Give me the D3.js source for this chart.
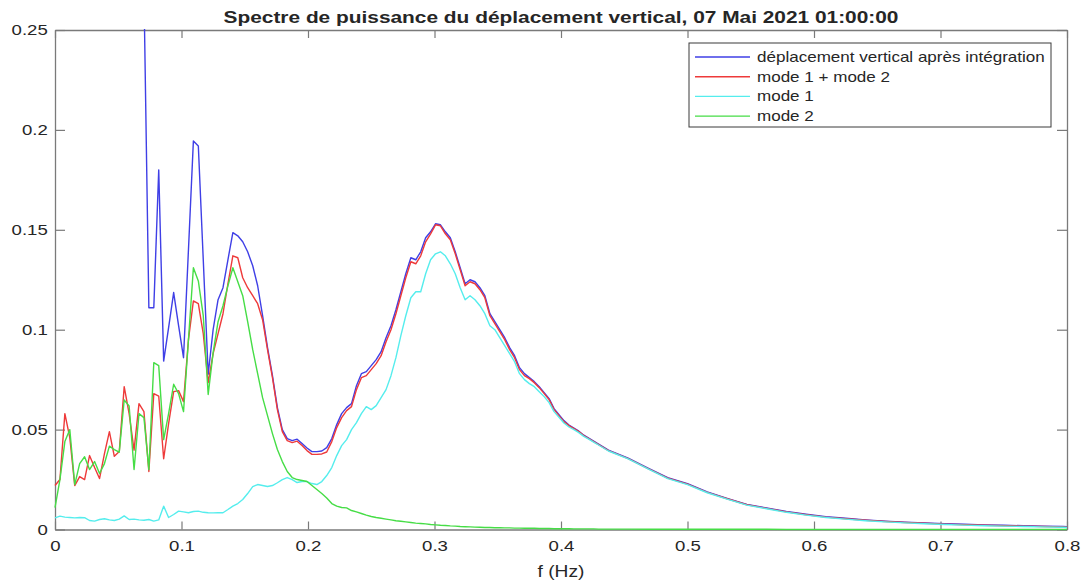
<!DOCTYPE html>
<html>
<head>
<meta charset="utf-8" />
<title>Spectre de puissance</title>
<script src="https://d3js.org/d3.v7.min.js" charset="utf-8"></script>
<style>
    body { margin: 0; background: #fff; }
    svg text { font-family: "Liberation Sans", Arial, sans-serif; fill: #262626; }
</style>
</head>
<body>
<svg id="chart" width="1086" height="583"></svg>
<script>

// frequences (Hz), pas de 1/256 puis plus large dans la queue
var freq = [
    0, 0.0039, 0.0078, 0.0117, 0.0156, 0.0195, 0.0234, 0.0273, 0.0313, 0.0352,
    0.0391, 0.043, 0.0469, 0.0508, 0.0547, 0.0586, 0.0625, 0.0664, 0.0703, 0.0742,
    0.0781, 0.082, 0.0859, 0.0898, 0.0938, 0.0977, 0.1016, 0.1055, 0.1094, 0.1133,
    0.1172, 0.1211, 0.125, 0.1289, 0.1328, 0.1367, 0.1406, 0.1445, 0.1484, 0.1523,
    0.1563, 0.1602, 0.1641, 0.168, 0.1719, 0.1758, 0.1797, 0.1836, 0.1875, 0.1914,
    0.1953, 0.1992, 0.2031, 0.207, 0.2109, 0.2148, 0.2188, 0.2227, 0.2266, 0.2305,
    0.2344, 0.2383, 0.2422, 0.2461, 0.25, 0.2539, 0.2578, 0.2617, 0.2656, 0.2695,
    0.2734, 0.2773, 0.2813, 0.2852, 0.2891, 0.293, 0.2969, 0.3008, 0.3047, 0.3086,
    0.3125, 0.3164, 0.3203, 0.3242, 0.3281, 0.332, 0.3359, 0.3398, 0.3438, 0.3477,
    0.3516, 0.3555, 0.3594, 0.3633, 0.3672, 0.3711, 0.375, 0.3789, 0.3828, 0.3867,
    0.3906, 0.3945, 0.3984, 0.4023, 0.4063, 0.4102, 0.4141, 0.418, 0.4219, 0.4258,
    0.4297,
    0.4375, 0.4531, 0.4688, 0.4844, 0.5, 0.5156, 0.5313, 0.5469, 0.5625, 0.5781, 0.5938, 0.6094,
    0.625, 0.6406, 0.6563, 0.6719, 0.6875, 0.7031, 0.7188, 0.7344, 0.75, 0.7656, 0.7813, 0.7969,
    0.8
];

// deplacement vertical apres integration (bleu)
var deplacement = [
    9.5, 6.1, 4.0, 2.8, 2.1, 1.6, 1.3, 1.05, 0.9, 0.75,
    0.66, 0.58, 0.52, 0.46, 0.41, 0.37, 0.33, 0.30, 0.27, 0.111,
    0.111, 0.180, 0.0843, 0.101, 0.1186, 0.102, 0.086, 0.14, 0.1945, 0.192,
    0.135, 0.0777, 0.100, 0.115, 0.121, 0.135, 0.1486, 0.147, 0.144, 0.139,
    0.132, 0.122, 0.107, 0.091, 0.077, 0.061, 0.050, 0.0455, 0.0445, 0.0452,
    0.043, 0.0408, 0.039, 0.039, 0.0393, 0.041, 0.0455, 0.0525, 0.058, 0.061,
    0.063, 0.072, 0.078, 0.079, 0.082, 0.085, 0.089, 0.096, 0.102, 0.110,
    0.119, 0.128, 0.136, 0.135, 0.139, 0.146, 0.149, 0.153, 0.1525, 0.149,
    0.146, 0.139, 0.131, 0.123, 0.125, 0.124, 0.121, 0.117, 0.108, 0.104,
    0.100, 0.096, 0.091, 0.087, 0.081, 0.078, 0.076, 0.074, 0.0715, 0.0685,
    0.0655, 0.0605, 0.0575, 0.0545, 0.0523, 0.0508, 0.0492, 0.0472, 0.0457, 0.0442,
    0.0427,
    0.0397, 0.0357, 0.0307, 0.0259, 0.0229, 0.0188, 0.0156, 0.0126, 0.0108, 0.0090, 0.0076, 0.0064,
    0.0056, 0.0048, 0.0042, 0.0037, 0.0033, 0.0029, 0.0026, 0.0023, 0.0021, 0.0019, 0.0017, 0.0015,
    0.0014
];

// mode 1 + mode 2 (rouge)
var modeSomme = [
    0.022, 0.025, 0.058, 0.046, 0.022, 0.0265, 0.025, 0.037, 0.031, 0.0255,
    0.038, 0.049, 0.0366, 0.039, 0.0715, 0.058, 0.0397, 0.063, 0.059, 0.029,
    0.068, 0.0668, 0.0354, 0.053, 0.069, 0.0695, 0.064, 0.095, 0.1144, 0.113,
    0.098, 0.0735, 0.088, 0.098, 0.108, 0.123, 0.137, 0.136, 0.126, 0.121,
    0.117, 0.113, 0.105, 0.090, 0.076, 0.060, 0.049, 0.0445, 0.0435, 0.0442,
    0.042, 0.0395, 0.0376, 0.0376, 0.0378, 0.0388, 0.044, 0.051, 0.056, 0.0595,
    0.0615, 0.070, 0.076, 0.077, 0.080, 0.083, 0.087, 0.094, 0.100, 0.108,
    0.117, 0.126, 0.134, 0.133, 0.137, 0.144, 0.148, 0.1525, 0.152, 0.148,
    0.145, 0.138, 0.130, 0.122, 0.124, 0.123, 0.120, 0.116, 0.107, 0.103,
    0.099, 0.095, 0.090, 0.086, 0.080, 0.077, 0.0755, 0.0735, 0.071, 0.068,
    0.065, 0.060, 0.057, 0.054, 0.052, 0.0505, 0.049, 0.047, 0.0455, 0.044,
    0.0425,
    0.0395, 0.0355, 0.0305, 0.0257, 0.0227, 0.0186, 0.0154, 0.0124, 0.0106, 0.0088, 0.0074, 0.0062,
    0.0054, 0.0046, 0.0040, 0.0035, 0.0031, 0.0027, 0.0024, 0.0021, 0.0019, 0.0017, 0.0015, 0.0013,
    0.0012
];

// mode 1 (cyan)
var mode1 = [
    0.0058, 0.0067, 0.0062, 0.006, 0.0058, 0.006, 0.0059, 0.0045, 0.0042, 0.005,
    0.0054, 0.0048, 0.0045, 0.0052, 0.0068, 0.005, 0.0052, 0.0048, 0.0046, 0.005,
    0.0042, 0.0048, 0.0117, 0.006, 0.0075, 0.0092, 0.0088, 0.0084, 0.009, 0.0092,
    0.0086, 0.0084, 0.0083, 0.0084, 0.0084, 0.010, 0.0117, 0.013, 0.015, 0.018,
    0.0215, 0.0225, 0.022, 0.0215, 0.022, 0.0234, 0.025, 0.026, 0.025, 0.0235,
    0.024, 0.024, 0.023, 0.0225, 0.024, 0.027, 0.031, 0.037, 0.042, 0.045,
    0.050, 0.0535, 0.058, 0.0615, 0.060, 0.062, 0.066, 0.070, 0.077, 0.086,
    0.097, 0.107, 0.116, 0.119, 0.119, 0.128, 0.135, 0.138, 0.139, 0.137,
    0.133, 0.128, 0.121, 0.115, 0.117, 0.115, 0.112, 0.108, 0.102, 0.100,
    0.096, 0.092, 0.088, 0.084, 0.078, 0.075, 0.073, 0.0715, 0.069, 0.0665,
    0.0635, 0.059, 0.0562, 0.0533, 0.0513, 0.050, 0.0485, 0.0466, 0.0452, 0.0437,
    0.0423,
    0.0393, 0.0353, 0.0303, 0.0255, 0.0225, 0.0184, 0.0152, 0.0122, 0.0104, 0.0086, 0.0072, 0.0060,
    0.0052, 0.0044, 0.0038, 0.0033, 0.0029, 0.0025, 0.0022, 0.0019, 0.0017, 0.0015, 0.0013, 0.0011,
    0.0010
];

// mode 2 (vert)
var mode2 = [
    0.011, 0.025, 0.044, 0.050, 0.0225, 0.033, 0.0364, 0.030, 0.034, 0.028,
    0.033, 0.0417, 0.040, 0.0387, 0.0648, 0.0618, 0.030, 0.058, 0.056, 0.030,
    0.0835, 0.082, 0.045, 0.058, 0.0727, 0.068, 0.059, 0.095, 0.131, 0.1244,
    0.107, 0.0676, 0.0885, 0.104, 0.112, 0.122, 0.131, 0.124, 0.117, 0.104,
    0.090, 0.078, 0.066, 0.057, 0.048, 0.040, 0.034, 0.029, 0.026, 0.025,
    0.0245, 0.024, 0.022, 0.020, 0.018, 0.0158, 0.013, 0.0117, 0.011, 0.0108,
    0.0095, 0.0088, 0.008, 0.0072, 0.0065, 0.006, 0.0056, 0.0052, 0.0048, 0.0044,
    0.0041, 0.0038, 0.0035, 0.0032, 0.003, 0.0028, 0.0025, 0.0023, 0.0021, 0.002,
    0.0018, 0.0017, 0.0015, 0.0014, 0.0013, 0.0012, 0.0011, 0.001, 0.001, 0.0009,
    0.0009, 0.0008, 0.0008, 0.0007, 0.0007, 0.0006, 0.0006, 0.0006, 0.0005, 0.0005,
    0.0005, 0.0004, 0.0004, 0.0004, 0.0004, 0.0003, 0.0003, 0.0003, 0.0003, 0.0003,
    0.0002,
    0.0002, 0.0002, 0.0001, 0.0001, 0.0001, 0.0001, 0.0001, 0.0001, 0.0001, 0, 0, 0,
    0, 0, 0, 0, 0, 0, 0, 0, 0, 0, 0, 0,
    0
];

var xTicks = [0, 0.1, 0.2, 0.3, 0.4, 0.5, 0.6, 0.7, 0.8];
var yTicks = [0, 0.05, 0.1, 0.15, 0.2, 0.25];
var legendLabels = ["déplacement vertical après intégration", "mode 1 + mode 2", "mode 1", "mode 2"];
var titre = "Spectre de puissance du déplacement vertical, 07 Mai 2021 01:00:00";

// couleurs des series, dans l'ordre de la legende
var couleurs = ["#3f3fe6", "#ee3a3a", "#55eded", "#46dd46"];
var series = [deplacement, modeSomme, mode1, mode2];

// le graphique d'origine est etire horizontalement
var stretch = 1.2;

var svg = d3.select("#chart"),
    margin = { top: 30, right: 19, bottom: 53.5, left: 55 },
    width = +svg.attr("width") - margin.left - margin.right,
    height = +svg.attr("height") - margin.top - margin.bottom;

var scaleX = d3.scaleLinear().domain([0, 0.8]).range([0, width]),
    scaleY = d3.scaleLinear().domain([0, 0.25]).range([height, 0]);

svg.append("rect").attr("width", 1086).attr("height", 583).attr("fill", "#fff");

svg.append("defs").append("clipPath")
    .attr("id", "clip")
    .append("rect")
    .attr("x", -1)
    .attr("y", -1)
    .attr("width", width + 2)
    .attr("height", height + 2);

var plot = svg.append("g")
    .attr("transform", "translate(" + margin.left + "," + margin.top + ")");

/* axes */
var axisColor = "#7a7a7a";

function styleAxis(g) {
    g.select(".domain").attr("stroke", axisColor).attr("stroke-width", 1.3);
    g.selectAll(".tick line").attr("stroke", axisColor).attr("stroke-width", 1.2);
    g.selectAll("text")
        .attr("font-size", 15.5)
        .attr("fill", "#262626")
        .attr("font-family", "Liberation Sans, Arial, sans-serif")
        .attr("transform", "scale(" + stretch + ",1)");
}

plot.append("g")
    .attr("transform", "translate(0," + height + ")")
    .call(d3.axisBottom(scaleX).tickValues(xTicks).tickSizeInner(-8).tickSizeOuter(0).tickPadding(11)
        .tickFormat(function (d) { return d3.format("")(+d.toFixed(2)); }))
    .call(styleAxis);

plot.append("g")
    .call(d3.axisLeft(scaleY).tickValues(yTicks).tickSizeInner(-10).tickSizeOuter(0).tickPadding(6)
        .tickFormat(function (d) { return d3.format("")(+d.toFixed(2)); }))
    .call(styleAxis);

plot.append("g")
    .call(d3.axisTop(scaleX).tickValues(xTicks).tickSizeInner(-8).tickSizeOuter(0).tickFormat(""))
    .call(styleAxis);

plot.append("g")
    .attr("transform", "translate(" + width + ",0)")
    .call(d3.axisRight(scaleY).tickValues(yTicks).tickSizeInner(-10).tickSizeOuter(0).tickFormat(""))
    .call(styleAxis);

/* courbes */
var ligne = d3.line()
    .x(function (d) { return scaleX(d.f); })
    .y(function (d) { return scaleY(d.v); });

var courbes = plot.append("g").attr("clip-path", "url(#clip)");

series.forEach(function (vals, k) {
    var data = freq.map(function (f, i) { return { f: f, v: vals[i] }; });
    courbes.append("path")
        .datum(data)
        .attr("fill", "none")
        .attr("stroke", couleurs[k])
        .attr("stroke-width", 1.4)
        .attr("stroke-linejoin", "round")
        .attr("d", ligne);
});

/* titre et label */
svg.append("g")
    .attr("transform", "translate(" + (margin.left + width / 2) + ",23) scale(" + stretch + ",1)")
    .append("text")
    .attr("text-anchor", "middle")
    .attr("font-size", 17.4)
    .attr("font-weight", "bold")
    .attr("fill", "#1a1a1a")
    .text(titre);

svg.append("g")
    .attr("transform", "translate(" + (margin.left + width / 2) + ",577) scale(" + stretch + ",1)")
    .append("text")
    .attr("text-anchor", "middle")
    .attr("font-size", 16)
    .text("f (Hz)");

/* legende */
var legend = svg.append("g").attr("transform", "translate(689,43)");

legend.append("rect")
    .attr("width", 362)
    .attr("height", 84)
    .attr("fill", "#fff")
    .attr("stroke", "#3a3a3a")
    .attr("stroke-width", 1);

legendLabels.forEach(function (lab, k) {
    var yRow = 14 + k * 19.7;
    legend.append("line")
        .attr("x1", 6).attr("x2", 61)
        .attr("y1", yRow).attr("y2", yRow)
        .attr("stroke", couleurs[k])
        .attr("stroke-width", 1.4);
    legend.append("g")
        .attr("transform", "translate(68," + (yRow + 5) + ") scale(" + stretch + ",1)")
        .append("text")
        .attr("font-size", 14.2)
        .text(lab);
});

</script>
</body>
</html>
